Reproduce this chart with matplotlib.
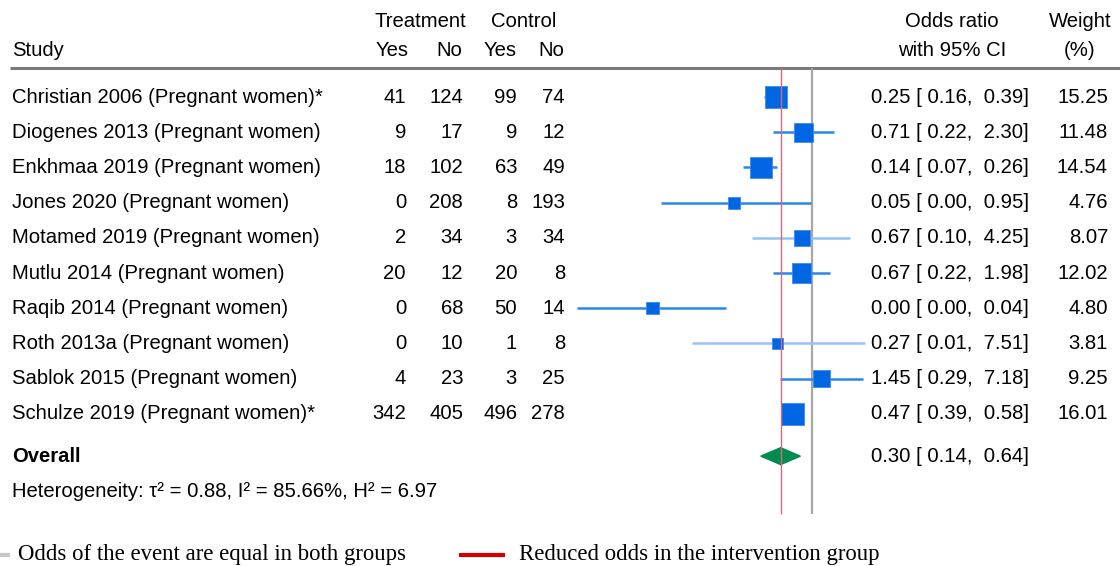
import numpy as np
import matplotlib
matplotlib.use('Agg')
import matplotlib.pyplot as plt
from matplotlib.patches import Polygon

plt.rcParams['font.family'] = ['Liberation Sans', 'DejaVu Sans']

studies = ['Christian 2006 (Pregnant women)*', 'Diogenes 2013 (Pregnant women)',
           'Enkhmaa 2019 (Pregnant women)', 'Jones 2020 (Pregnant women)',
           'Motamed 2019 (Pregnant women)', 'Mutlu 2014 (Pregnant women)',
           'Raqib 2014 (Pregnant women)', 'Roth 2013a (Pregnant women)',
           'Sablok 2015 (Pregnant women)', 'Schulze 2019 (Pregnant women)*']
treat_yes = [41, 9, 18, 0, 2, 20, 0, 0, 4, 342]
treat_no = [124, 17, 102, 208, 34, 12, 68, 10, 23, 405]
ctrl_yes = [99, 9, 63, 8, 3, 20, 50, 1, 3, 496]
ctrl_no = [74, 12, 49, 193, 34, 8, 14, 8, 25, 278]
odds = [0.25, 0.71, 0.14, 0.05, 0.67, 0.67, 0.0022, 0.27, 1.45, 0.47]
ci_low = [0.16, 0.22, 0.07, 0.003, 0.10, 0.22, 0.00012, 0.01, 0.29, 0.39]
ci_high = [0.39, 2.30, 0.26, 0.95, 4.25, 1.98, 0.037, 7.51, 7.18, 0.58]
or_labels = ['0.25 [ 0.16,  0.39]', '0.71 [ 0.22,  2.30]', '0.14 [ 0.07,  0.26]',
             '0.05 [ 0.00,  0.95]', '0.67 [ 0.10,  4.25]', '0.67 [ 0.22,  1.98]',
             '0.00 [ 0.00,  0.04]', '0.27 [ 0.01,  7.51]', '1.45 [ 0.29,  7.18]',
             '0.47 [ 0.39,  0.58]']
weights = [15.25, 11.48, 14.54, 4.76, 8.07, 12.02, 4.80, 3.81, 9.25, 16.01]
light_ci = [False, False, False, False, True, False, False, True, False, False]
overall = (0.30, 0.14, 0.64)
overall_label = '0.30 [ 0.14,  0.64]'
het_text = 'Heterogeneity: τ² = 0.88, I² = 85.66%, H² = 6.97'

# row r sits at pixel 97 + 35.2*r
ylim = (13.32, -2.756)
fig = plt.figure(figsize=(11.2, 5.66), dpi=100)
ax = fig.add_axes([0, 0, 1, 1])
ax.set_xlim(0, 1120)
ax.set_ylim(*ylim)
ax.axis('off')

fs = 14.6
n = len(studies)
rows = np.arange(n)

# header
ax.text(420, -2.15, 'Treatment', ha='center', va='center', fontsize=fs)
ax.text(524, -2.15, 'Control', ha='center', va='center', fontsize=fs)
ax.text(12, -1.33, 'Study', ha='left', va='center', fontsize=fs)
for x, s in [(409, 'Yes'), (462, 'No'), (517, 'Yes'), (564, 'No')]:
    ax.text(x, -1.33, s, ha='right', va='center', fontsize=fs)
ax.text(952, -2.15, 'Odds ratio', ha='center', va='center', fontsize=fs)
ax.text(952, -1.33, 'with 95% CI', ha='center', va='center', fontsize=fs)
ax.text(1080, -2.15, 'Weight', ha='center', va='center', fontsize=fs)
ax.text(1080, -1.33, '(%)', ha='center', va='center', fontsize=fs)
ax.plot([10, 1120], [-0.82, -0.82], color='#7a7a7a', lw=2.2, solid_capstyle='butt')

for i in rows:
    ax.text(12, i, studies[i], ha='left', va='center', fontsize=fs)
    ax.text(406, i, str(treat_yes[i]), ha='right', va='center', fontsize=fs)
    ax.text(463, i, str(treat_no[i]), ha='right', va='center', fontsize=fs)
    ax.text(517, i, str(ctrl_yes[i]), ha='right', va='center', fontsize=fs)
    ax.text(565, i, str(ctrl_no[i]), ha='right', va='center', fontsize=fs)
    ax.text(871, i, or_labels[i], ha='left', va='center', fontsize=fs)
    ax.text(1108, i, '%.2f' % weights[i], ha='right', va='center', fontsize=fs)

y_over = 10.2
ax.text(12, y_over, 'Overall', ha='left', va='center', fontsize=fs, fontweight='bold')
ax.text(871, y_over, overall_label, ha='left', va='center', fontsize=fs)
ax.text(12, 11.2, het_text, ha='left', va='center', fontsize=fs)

# forest panel, log scale: OR=1 at pixel 812, 60 px per decade
px0, px1 = 560, 880
fx = fig.add_axes([px0 / 1120, 0, (px1 - px0) / 1120, 1])
fx.set_xscale('log')
fx.set_xlim(10 ** ((px0 - 812) / 60), 10 ** ((px1 - 812) / 60))
fx.set_ylim(*ylim)
fx.axis('off')
fx.patch.set_alpha(0)

fx.vlines(1, -0.82, 11.85, color='#a8a8a8', lw=1.6, zorder=1)
fx.vlines(overall[0], -0.82, 11.85, color='#d9687a', lw=1.0, zorder=4)

for i in rows:
    col = '#93c3f7' if light_ci[i] else '#2a86ee'
    fx.hlines(i, ci_low[i], ci_high[i], color=col, lw=1.8, zorder=2)
fx.scatter(odds, rows, s=np.array(weights) * 16.5, marker='s', color='#0066e3',
           edgecolors='#3d8cf0', linewidths=0.6, zorder=3)

d = Polygon([[overall[1], y_over], [overall[0], y_over - 0.24],
             [overall[2], y_over], [overall[0], y_over + 0.24]],
            closed=True, color='#008c4f', zorder=3)
fx.add_patch(d)

# legend
lfs = 16.4
ax.plot([-5, 10], [13.0, 13.0], color='#c8c8c8', lw=3, solid_capstyle='butt')
ax.text(18, 13.0, 'Odds of the event are equal in both groups', ha='left', va='center',
        fontsize=lfs, family='Liberation Serif')
ax.plot([459, 505], [13.0, 13.0], color='#d40000', lw=3, solid_capstyle='butt')
ax.text(519, 13.0, 'Reduced odds in the intervention group', ha='left', va='center',
        fontsize=lfs, family='Liberation Serif')

fig.savefig('out.png', dpi=100)
